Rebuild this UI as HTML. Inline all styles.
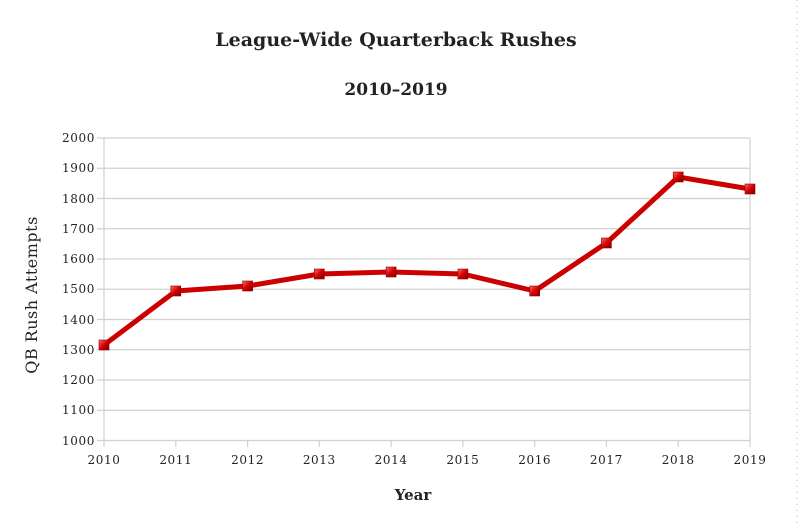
<!DOCTYPE html>
<html><head><meta charset="utf-8"><style>
html,body{margin:0;padding:0;background:#fff;}
svg{display:block;}
text{font-family:"DejaVu Serif","Liberation Serif",serif;fill:#222;}
</style></head><body>
<svg width="800" height="524" viewBox="0 0 800 524" xmlns="http://www.w3.org/2000/svg">
<defs>
<linearGradient id="m" x1="0" y1="0" x2="1" y2="1">
<stop offset="0" stop-color="#ff6a6a"/><stop offset="0.5" stop-color="#d40000"/><stop offset="1" stop-color="#7a0000"/>
</linearGradient>
</defs>
<rect width="800" height="524" fill="#fff"/>
<line x1="797" y1="0" x2="797" y2="524" stroke="#bbb" stroke-dasharray="1,5"/>
<text x="396" y="46" font-size="19" font-weight="bold" text-anchor="middle">League-Wide Quarterback Rushes</text>
<text x="396" y="95" font-size="17" font-weight="bold" text-anchor="middle">2010–2019</text>
<g stroke="#d0d0d0" stroke-width="1.2">
<line x1="97" y1="138" x2="750" y2="138"/>
<line x1="97" y1="168.25" x2="750" y2="168.25"/>
<line x1="97" y1="198.5" x2="750" y2="198.5"/>
<line x1="97" y1="228.75" x2="750" y2="228.75"/>
<line x1="97" y1="259" x2="750" y2="259"/>
<line x1="97" y1="289.25" x2="750" y2="289.25"/>
<line x1="97" y1="319.5" x2="750" y2="319.5"/>
<line x1="97" y1="349.75" x2="750" y2="349.75"/>
<line x1="97" y1="380" x2="750" y2="380"/>
<line x1="97" y1="410.25" x2="750" y2="410.25"/>
<line x1="97" y1="440.5" x2="750" y2="440.5"/>
<line x1="104" y1="138" x2="104" y2="447"/>
<line x1="750" y1="138" x2="750" y2="447"/>
<line x1="175.8" y1="440" x2="175.8" y2="447"/>
<line x1="247.6" y1="440" x2="247.6" y2="447"/>
<line x1="319.3" y1="440" x2="319.3" y2="447"/>
<line x1="391.1" y1="440" x2="391.1" y2="447"/>
<line x1="462.9" y1="440" x2="462.9" y2="447"/>
<line x1="534.7" y1="440" x2="534.7" y2="447"/>
<line x1="606.4" y1="440" x2="606.4" y2="447"/>
<line x1="678.2" y1="440" x2="678.2" y2="447"/>
</g>
<g font-size="12" text-anchor="end" letter-spacing="0.6">
<text x="95" y="142">2000</text><text x="95" y="172">1900</text><text x="95" y="203">1800</text>
<text x="95" y="233">1700</text><text x="95" y="263">1600</text><text x="95" y="293">1500</text>
<text x="95" y="324">1400</text><text x="95" y="354">1300</text><text x="95" y="384">1200</text>
<text x="95" y="414">1100</text><text x="95" y="445">1000</text>
</g>
<g font-size="12" text-anchor="middle" letter-spacing="0.6">
<text x="104" y="464">2010</text><text x="175.8" y="464">2011</text><text x="247.6" y="464">2012</text>
<text x="319.3" y="464">2013</text><text x="391.1" y="464">2014</text><text x="462.9" y="464">2015</text>
<text x="534.7" y="464">2016</text><text x="606.4" y="464">2017</text><text x="678.2" y="464">2018</text>
<text x="750" y="464">2019</text>
</g>
<text x="413" y="500" font-size="15" font-weight="bold" text-anchor="middle">Year</text>
<text transform="translate(37,295) rotate(-90)" font-size="16" text-anchor="middle" letter-spacing="0.5">QB Rush Attempts</text>
<polyline fill="none" stroke="#cc0000" stroke-width="5" stroke-linejoin="round"
points="104,345 175.8,291 247.6,286 319.3,274 391.1,272 462.9,274 534.7,291 606.4,243 678.2,177 750,189"/>
<g fill="url(#m)" stroke="#8a0000" stroke-width="0.6">
<rect x="99" y="340" width="10" height="10"/><rect x="170.8" y="286" width="10" height="10"/>
<rect x="242.6" y="281" width="10" height="10"/><rect x="314.3" y="269" width="10" height="10"/>
<rect x="386.1" y="267" width="10" height="10"/><rect x="457.9" y="269" width="10" height="10"/>
<rect x="529.7" y="286" width="10" height="10"/><rect x="601.4" y="238" width="10" height="10"/>
<rect x="673.2" y="172" width="10" height="10"/><rect x="745" y="184" width="10" height="10"/>
</g>
</svg>
</body></html>
